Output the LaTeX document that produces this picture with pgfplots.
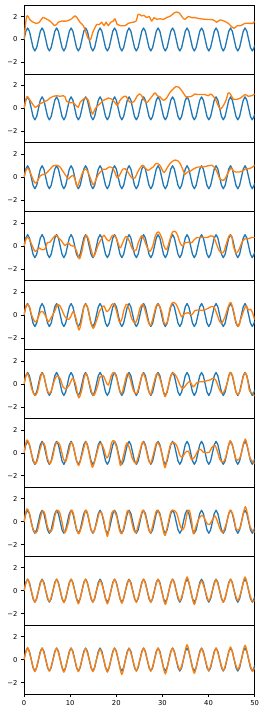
\documentclass[border=0pt]{standalone}
\usepackage{fontspec}
\setmainfont{DejaVu Sans}
\usepackage{pgfplots}
\usepackage{pgfplotstable}
\pgfplotsset{compat=1.18}
\usepgfplotslibrary{groupplots}
\definecolor{c0}{HTML}{1F77B4}
\definecolor{c1}{HTML}{FF7F0E}
\pgfplotstableread[row sep=\\]{
x y\\
0 0\\ 0.3927 0.7071\\ 0.7854 1\\ 1.1781 0.7071\\ 1.5708 0\\ 1.9635 -0.7071\\ 2.3562 -1\\ 2.7489 -0.7071\\
3.1416 0\\ 3.5343 0.7071\\ 3.9270 1\\ 4.3197 0.7071\\ 4.7124 0\\ 5.1051 -0.7071\\ 5.4978 -1\\ 5.8905 -0.7071\\
6.2832 0\\ 6.6759 0.7071\\ 7.0686 1\\ 7.4613 0.7071\\ 7.8540 0\\ 8.2467 -0.7071\\ 8.6394 -1\\ 9.0321 -0.7071\\
9.4248 0\\ 9.8175 0.7071\\ 10.2102 1\\ 10.6029 0.7071\\ 10.9956 0\\ 11.3883 -0.7071\\ 11.7810 -1\\ 12.1737 -0.7071\\
12.5664 0\\ 12.9591 0.7071\\ 13.3518 1\\ 13.7445 0.7071\\ 14.1372 0\\ 14.5299 -0.7071\\ 14.9226 -1\\ 15.3153 -0.7071\\
15.7080 0\\ 16.1007 0.7071\\ 16.4934 1\\ 16.8861 0.7071\\ 17.2788 0\\ 17.6715 -0.7071\\ 18.0642 -1\\ 18.4569 -0.7071\\
18.8496 0\\ 19.2423 0.7071\\ 19.6350 1\\ 20.0277 0.7071\\ 20.4204 0\\ 20.8131 -0.7071\\ 21.2058 -1\\ 21.5985 -0.7071\\
21.9911 0\\ 22.3838 0.7071\\ 22.7765 1\\ 23.1692 0.7071\\ 23.5619 0\\ 23.9546 -0.7071\\ 24.3473 -1\\ 24.7400 -0.7071\\
25.1327 0\\ 25.5254 0.7071\\ 25.9181 1\\ 26.3108 0.7071\\ 26.7035 0\\ 27.0962 -0.7071\\ 27.4889 -1\\ 27.8816 -0.7071\\
28.2743 0\\ 28.6670 0.7071\\ 29.0597 1\\ 29.4524 0.7071\\ 29.8451 0\\ 30.2378 -0.7071\\ 30.6305 -1\\ 31.0232 -0.7071\\
31.4159 0\\ 31.8086 0.7071\\ 32.2013 1\\ 32.5940 0.7071\\ 32.9867 0\\ 33.3794 -0.7071\\ 33.7721 -1\\ 34.1648 -0.7071\\
34.5575 0\\ 34.9502 0.7071\\ 35.3429 1\\ 35.7356 0.7071\\ 36.1283 0\\ 36.5210 -0.7071\\ 36.9137 -1\\ 37.3064 -0.7071\\
37.6991 0\\ 38.0918 0.7071\\ 38.4845 1\\ 38.8772 0.7071\\ 39.2699 0\\ 39.6626 -0.7071\\ 40.0553 -1\\ 40.4480 -0.7071\\
40.8407 0\\ 41.2334 0.7071\\ 41.6261 1\\ 42.0188 0.7071\\ 42.4115 0\\ 42.8042 -0.7071\\ 43.1969 -1\\ 43.5896 -0.7071\\
43.9823 0\\ 44.3750 0.7071\\ 44.7677 1\\ 45.1604 0.7071\\ 45.5531 0\\ 45.9458 -0.7071\\ 46.3385 -1\\ 46.7312 -0.7071\\
47.1239 0\\ 47.5166 0.7071\\ 47.9093 1\\ 48.3020 0.7071\\ 48.6947 0\\ 49.0874 -0.7071\\ 49.4801 -1\\ 49.8728 -0.7071\\
50 -0.5064\\
}\bluedata
\begin{document}
\begin{tikzpicture}
\begin{groupplot}[
  group style={group size=1 by 10, vertical sep=0pt, xticklabels at=edge bottom},
  width=230.7pt, height=68.9pt, scale only axis,
  xmin=0, xmax=50, ymin=-3, ymax=3,
  ytick={-2,0,2}, yticklabels={−2,0,2},
  xtick={0,10,20,30,40,50}, xticklabels={0,10,20,30,40,50},
  tick align=outside, tick pos=left, major tick length=3pt,
  tick style={black, line width=0.7pt},
  ticklabel style={font=\fontsize{6.8}{8}\selectfont},
  /pgf/number format/assume math mode=true,
  axis line style={black, line width=0.7pt},
  bl/.style={c0, line width=1.3pt, line join=round},
  or/.style={c1, line width=1.3pt, line join=round, smooth, tension=0.5},
]
% panel 1
\nextgroupplot[xtick=\empty]
\addplot[bl] table {\bluedata};
\addplot[or] coordinates {(0,0)(0.58,2.0)(1.30,1.7)(2.02,1.5)(2.60,1.4)(3.32,1.5)(4.05,1.9)(4.77,1.8)(5.64,1.6)(6.72,1.2)(7.44,1.5)(8.16,1.6)(9.25,1.6)(10.33,1.8)(11.05,2.05)(11.56,1.85)(12.14,1.5)(12.86,1.2)(13.44,0.6)(13.94,0.05)(14.45,0)(14.88,0.6)(15.24,0.9)(15.75,1.3)(16.33,1.3)(16.83,1.5)(17.34,1.2)(17.77,1.5)(18.28,1.2)(18.79,1.5)(19.36,1.6)(19.72,1.8)(20.23,1.3)(20.95,1.2)(21.89,1.2)(22.61,1.4)(23.55,1.5)(24.28,1.6)(24.78,2.2)(25.50,2.05)(26.01,2.1)(26.59,1.9)(27.17,2.0)(27.67,1.6)(28.18,1.9)(28.76,1.75)(29.48,1.8)(30.20,1.75)(30.92,1.9)(31.79,2.05)(32.51,2.3)(33.09,2.4)(33.67,2.3)(34.39,1.9)(34.90,1.75)(35.62,2.0)(36.34,1.9)(37.06,1.9)(38.15,1.8)(39.59,1.75)(41.04,1.7)(41.76,1.5)(42.48,1.7)(43.35,1.6)(44.29,1.4)(45.01,1.1)(45.52,0.97)(46.24,1.2)(46.96,1.2)(47.90,1.4)(48.84,1.4)(49.57,1.4)(50,1.6)};
% panel 2
\nextgroupplot[xtick=\empty]
\addplot[bl] table {\bluedata};
\addplot[or] coordinates {(0,0)(0.58,1.0)(1.16,0.8)(1.66,0.5)(2.38,0.1)(2.89,0.2)(3.47,0.4)(4.05,0.5)(4.55,0.6)(5.06,0.7)(5.64,0.9)(6.36,1.05)(7.08,1.1)(7.80,1.05)(8.53,1.1)(8.89,1.0)(9.25,0.6)(9.97,0.5)(10.69,0.5)(11.27,0.25)(11.78,0.1)(12.14,0.5)(12.86,0.8)(13.44,0.9)(13.94,0.7)(14.45,-0.05)(14.88,-0.5)(15.39,-0.05)(15.90,0.2)(16.47,0.4)(17.20,0.7)(17.77,0.8)(18.28,0.9)(19.00,0.8)(19.72,0.5)(20.23,0.25)(20.81,0.7)(21.53,1.0)(22.11,1.05)(22.61,0.7)(23.12,0.5)(23.84,0.6)(24.57,1.1)(25.00,1.25)(25.50,1.1)(25.87,0.8)(26.59,0.5)(27.17,0.75)(27.67,1.0)(28.39,1.35)(28.90,1.1)(29.48,1.0)(30.20,0.7)(30.92,0.9)(31.65,1.4)(32.37,1.7)(32.95,1.9)(33.67,1.8)(34.17,1.55)(34.68,1.25)(35.11,1.0)(35.62,1.0)(36.34,1.05)(37.06,1.25)(37.79,1.2)(38.51,1.2)(39.23,1.2)(39.95,1.1)(40.46,1.25)(41.04,1.05)(41.62,0.7)(42.12,0.2)(42.63,-0.05)(43.21,0.25)(43.78,0.7)(44.29,1.35)(44.80,1.2)(45.37,0.8)(46.24,0.8)(46.96,0.9)(47.90,1.2)(48.63,1.05)(49.35,1.1)(50,1.25)};
% panel 3
\nextgroupplot[xtick=\empty]
\addplot[bl] table {\bluedata};
\addplot[or] coordinates {(0,0)(0.58,0.75)(1.16,0.6)(1.66,0.1)(2.38,-0.5)(2.89,-0.35)(3.47,0.1)(4.05,0.25)(4.55,0.25)(5.06,0.45)(5.64,0.7)(6.36,1.0)(7.08,1.05)(7.80,0.9)(8.38,0.55)(8.89,0.25)(9.61,-0.15)(10.12,0.05)(10.69,0.15)(11.05,-0.2)(11.56,-0.8)(12.14,-0.2)(12.86,0.55)(13.44,0.7)(13.94,0.4)(14.45,-0.15)(15.03,-0.65)(15.61,-0.2)(16.11,0.25)(16.62,0.5)(17.20,0.7)(17.77,0.7)(18.50,0.9)(19.22,0.8)(19.72,0.4)(20.23,-0.05)(20.81,0.25)(21.39,0.7)(21.89,0.75)(22.61,0.4)(23.34,-0.05)(24.06,-0.05)(24.57,0.4)(25.14,0.8)(25.72,1.05)(26.23,0.8)(26.95,0.6)(27.46,0.75)(28.03,0.9)(28.61,1.2)(29.33,1.1)(29.84,0.75)(30.35,0.4)(30.92,0.75)(31.65,1.2)(32.22,1.4)(32.73,1.5)(33.45,1.4)(33.96,1.1)(34.54,0.55)(34.90,0.25)(35.40,0.45)(36.13,0.55)(36.85,0.75)(37.79,0.9)(38.87,0.9)(39.95,1.0)(40.68,1.05)(41.40,0.8)(41.91,0.4)(42.48,-0.15)(43.35,-0.25)(43.93,0.15)(44.51,0.6)(45.01,0.8)(45.37,0.55)(45.95,0.45)(46.67,0.45)(47.40,0.55)(48.12,0.75)(48.84,0.75)(49.57,0.9)(50,1.05)};
% panel 4
\nextgroupplot[xtick=\empty]
\addplot[bl] table {\bluedata};
\addplot[or] coordinates {(0,0)(0.58,0.75)(1.16,0.6)(1.66,0.15)(2.38,-0.45)(2.89,-0.3)(3.32,-0.15)(3.83,-0.3)(4.55,-0.25)(5.06,0.3)(5.64,0.35)(6.36,0.75)(6.94,0.95)(7.44,0.75)(8.16,0.45)(8.89,0.05)(9.61,0.3)(10.12,0.05)(10.84,0)(11.41,-0.45)(11.99,-1.1)(12.50,-0.55)(13.00,0.45)(13.44,0.95)(13.94,0.65)(14.45,-0.15)(15.03,-0.9)(15.61,-0.45)(16.11,0.15)(16.83,0.65)(17.34,0.95)(17.92,0.6)(18.50,0.45)(19.00,0.85)(19.51,0.95)(20.09,0.6)(20.81,-0.15)(21.39,0.3)(22.11,0.85)(22.83,0.45)(23.55,-0.3)(24.28,-0.35)(24.78,0.3)(25.50,0.9)(26.01,0.6)(26.73,-0.15)(27.31,-0.45)(27.89,0)(28.47,0.9)(29.12,1.25)(29.84,0.75)(30.35,0)(30.92,-0.3)(31.65,0.6)(32.22,1.25)(32.73,1.3)(33.24,1.0)(33.82,0.3)(34.39,0)(34.90,0.3)(35.62,0.35)(36.34,0.3)(36.85,0.55)(37.42,0.75)(38.15,0.75)(39.01,0.75)(39.74,0.75)(40.46,0.9)(41.04,0.85)(41.62,0.3)(42.19,-0.3)(42.84,-0.6)(43.35,-0.45)(43.93,0.3)(44.51,0.95)(45.01,0.85)(45.37,0.05)(45.95,-0.6)(46.67,-0.25)(47.18,0.3)(47.90,0.65)(48.63,0.65)(49.35,0.75)(50,0.75)};
% panel 5
\nextgroupplot[xtick=\empty]
\addplot[bl] table {\bluedata};
\addplot[or] coordinates {(0,0)(0.58,0.95)(1.16,0.7)(1.66,0)(2.38,-0.6)(2.89,-0.4)(3.47,0.2)(4.05,0.3)(4.77,-0.15)(5.27,-0.6)(5.78,-0.3)(6.21,0)(6.72,0.4)(7.23,0.9)(7.80,0.8)(8.38,0.3)(8.89,-0.15)(9.61,-0.4)(10.12,-0.15)(10.69,0.3)(11.27,-0.3)(11.92,-1.3)(12.50,-0.45)(13.00,0.75)(13.44,0.95)(13.94,0.45)(14.45,-0.6)(15.03,-1.15)(15.75,-0.45)(16.33,0.3)(16.83,0.6)(17.34,0.8)(17.92,0.3)(18.50,0.5)(19.00,0.9)(19.51,0.95)(20.09,0.3)(20.66,-0.6)(21.17,-0.4)(21.67,0.45)(22.25,0.95)(22.83,0.45)(23.34,-0.3)(24.06,-0.7)(24.57,-0.3)(25.14,0.6)(25.72,0.95)(26.23,0.45)(26.95,-0.6)(27.46,-0.9)(28.03,-0.15)(28.61,0.75)(29.12,0.95)(29.84,0.3)(30.42,-0.75)(31.07,-0.6)(31.65,0.6)(32.22,1.1)(32.95,0.95)(33.67,0.3)(34.17,-0.15)(34.90,0.15)(35.62,0.2)(36.34,0)(37.06,0.4)(37.79,0.45)(38.51,0.4)(39.23,0.45)(39.95,0.6)(40.68,0.75)(41.18,0.7)(41.76,0.15)(42.34,-0.5)(42.84,-0.7)(43.57,-0.15)(44.29,0.75)(44.80,1.1)(45.37,0.45)(45.95,-0.6)(46.46,-1.0)(46.96,-0.4)(47.54,0.3)(48.12,0.8)(48.63,0.45)(49.13,0.5)(49.57,0.15)(50,-0.4)};
% panel 6
\nextgroupplot[xtick=\empty]
\addplot[bl] table {\bluedata};
\addplot[or] coordinates {(0,0)(0.58,0.9)(1.16,0.5)(1.66,-0.4)(2.38,-1.0)(2.89,-0.7)(3.47,0.35)(3.90,0.95)(4.34,0.65)(4.91,-0.4)(5.49,-0.85)(6.00,-0.5)(6.50,0.2)(7.08,0.7)(7.80,0.5)(8.53,-0.3)(9.25,-0.4)(9.97,0.05)(10.55,0.5)(11.13,0.05)(11.85,-1.2)(12.50,-0.55)(13.00,0.5)(13.44,0.9)(13.94,0.4)(14.67,-0.7)(15.17,-1.0)(15.90,-0.25)(16.47,0.6)(17.20,0.7)(17.77,0.2)(18.28,-0.1)(19.00,0.8)(19.51,1.0)(20.09,0.5)(20.66,-0.5)(21.24,-0.8)(21.89,0.2)(22.40,0.9)(22.98,0.5)(23.70,-0.55)(24.42,-0.85)(25.00,-0.1)(25.72,0.9)(26.30,0.5)(26.95,-0.55)(27.46,-0.9)(28.03,-0.1)(28.76,0.9)(29.33,0.65)(30.06,-0.4)(30.56,-1.1)(31.07,-0.55)(31.79,0.65)(32.37,0.95)(33.09,0.6)(33.82,-0.1)(34.39,-0.4)(34.90,-0.2)(35.40,0.05)(35.98,0.2)(36.70,-0.25)(37.42,0.1)(38.15,0.2)(39.01,0.2)(39.74,0.3)(40.32,0.35)(41.04,0.5)(41.62,0.3)(42.12,-0.25)(42.63,-0.7)(43.21,-0.75)(43.93,-0.1)(44.65,1.0)(45.23,0.65)(45.95,-0.7)(46.46,-0.9)(46.96,-0.4)(47.54,0.65)(47.98,1.0)(48.41,0.5)(48.84,-0.55)(49.35,-0.75)(50,-1.05)};
% panel 7
\nextgroupplot[xtick=\empty]
\addplot[bl] table {\bluedata};
\addplot[or] coordinates {(0,0)(0.58,1.1)(1.16,0.75)(1.66,-0.15)(2.38,-0.95)(2.89,-0.65)(3.47,0.3)(4.05,0.9)(4.55,0.6)(5.06,-0.45)(5.64,-0.95)(6.21,-0.35)(6.72,0.6)(7.23,0.95)(7.80,0.65)(8.53,-0.5)(9.03,-0.75)(9.61,0)(10.19,0.9)(10.69,0.6)(11.27,-0.45)(11.85,-1.1)(12.50,-0.3)(13.37,0.95)(13.94,0.3)(14.45,-0.75)(14.88,-1.25)(15.61,-0.3)(16.33,0.75)(16.83,0.75)(17.34,0.3)(17.92,-0.45)(18.50,0)(19.00,0.9)(19.51,1.05)(20.09,0.45)(20.66,-0.65)(20.95,-1.1)(21.53,-0.3)(22.25,0.85)(22.83,0.45)(23.55,-0.55)(24.28,-0.9)(25.00,0)(25.72,0.95)(26.30,0.55)(26.95,-0.55)(27.46,-0.9)(28.03,-0.15)(28.76,0.9)(29.48,0.55)(30.06,-0.45)(30.56,-1.3)(31.07,-0.45)(31.79,0.75)(32.37,0.9)(33.09,0.65)(33.82,-0.25)(34.39,-0.35)(34.90,0)(35.62,0.15)(36.34,-0.6)(37.06,-0.3)(37.79,0.25)(38.30,0.3)(38.87,0.05)(39.45,0)(40.17,0.05)(40.68,0.45)(41.40,0.65)(41.91,0.15)(42.48,-0.6)(43.21,-0.8)(43.78,-0.3)(44.65,1.05)(45.37,0.35)(45.95,-0.55)(46.46,-0.6)(46.96,-0.3)(47.54,0.75)(47.98,1.2)(48.41,0.6)(48.99,-0.45)(49.57,-0.75)(50,-0.95)};
% panel 8
\nextgroupplot[xtick=\empty]
\addplot[bl] table {\bluedata};
\addplot[or] coordinates {(0,0)(0.58,1.1)(1.16,0.75)(1.66,-0.25)(2.38,-0.95)(2.89,-0.8)(3.47,0.2)(4.05,0.95)(4.55,0.65)(5.06,-0.4)(5.64,-0.9)(6.21,-0.55)(6.72,0.55)(7.23,1.0)(7.80,0.75)(8.53,-0.6)(8.89,-0.95)(9.61,-0.1)(10.19,1.0)(10.69,0.75)(11.27,-0.4)(11.85,-1.05)(12.50,-0.4)(13.37,1.0)(13.94,0.45)(14.45,-0.6)(15.03,-0.95)(15.75,-0.1)(16.33,0.8)(16.83,0.75)(17.34,0.05)(17.77,-0.85)(18.14,-1.25)(18.64,0.05)(19.07,0.8)(19.51,0.95)(20.09,0.45)(20.66,-0.7)(21.17,-1.05)(21.67,-0.4)(22.40,0.95)(22.98,0.65)(23.70,-0.6)(24.28,-0.95)(25.00,0.05)(25.72,1.0)(26.30,0.55)(26.95,-0.6)(27.46,-0.95)(28.03,-0.1)(28.76,1.0)(29.48,0.55)(30.06,-0.55)(30.56,-1.2)(31.07,-0.45)(31.79,0.85)(32.37,1.0)(33.09,0.75)(33.82,-0.3)(34.39,-0.7)(34.90,-0.25)(35.40,0.8)(35.84,1.0)(36.34,0.05)(36.70,-1.05)(37.28,-0.4)(38.01,0.35)(38.73,0.55)(39.23,0.2)(39.59,-0.1)(40.17,-0.25)(40.89,0.2)(41.40,0.5)(41.91,0.05)(42.48,-0.6)(43.06,-0.95)(43.78,-0.25)(44.65,1.0)(45.37,0.5)(45.95,-0.6)(46.46,-0.7)(46.96,-0.4)(47.54,0.75)(47.98,1.3)(48.41,0.75)(48.99,-0.4)(49.57,-0.8)(50,-0.9)};
% panel 9
\nextgroupplot[xtick=\empty]
\addplot[bl] table {\bluedata};
\addplot[or] coordinates {(0,0)(0.7854,1.0)(1.5708,0)(2.3562,-1.0)(3.1416,0)(3.9270,0.95)(4.7124,0)(5.4978,-0.95)(6.2832,0)(7.0686,1.0)(7.8540,0)(8.6394,-1.05)(9.4248,0)(10.2102,1.0)(10.9956,0)(11.7810,-1.15)(12.5664,0)(13.3518,1.0)(14.1372,0)(14.9226,-1.0)(15.7080,0)(16.4934,0.88)(17.2788,0)(18.0642,-1.15)(18.8496,0)(19.6350,1.0)(20.4204,0)(21.2058,-1.1)(21.9911,0)(22.7765,0.95)(23.5619,0)(24.3473,-1.0)(25.1327,0)(25.9181,1.0)(26.7035,0)(27.4889,-1.0)(28.2743,0)(29.0597,1.0)(29.8451,0)(30.6305,-1.2)(31.4159,0)(32.2013,1.0)(32.9867,0)(33.7721,-0.9)(34.5575,0)(35.3429,1.2)(36.1283,0)(36.9137,-1.2)(37.6991,0)(38.4845,0.85)(39.2699,0)(40.0553,-0.9)(40.8407,0)(41.6261,0.95)(42.4115,0)(43.1969,-1.0)(43.9823,0)(44.7677,1.0)(45.5531,0)(46.3385,-0.85)(47.1239,0)(47.9093,1.2)(48.6947,0)(49.4801,-0.95)(50,-0.8)};
% panel 10
\nextgroupplot
\addplot[bl] table {\bluedata};
\addplot[or] coordinates {(0,0)(0.7854,1.05)(1.5708,0)(2.3562,-1.05)(3.1416,0)(3.9270,1.0)(4.7124,0)(5.4978,-1.0)(6.2832,0)(7.0686,1.0)(7.8540,0)(8.6394,-1.1)(9.4248,0)(10.2102,1.0)(10.9956,0)(11.7810,-1.05)(12.5664,0)(13.3518,0.95)(14.1372,0)(14.9226,-1.05)(15.7080,0)(16.4934,0.9)(17.2788,0)(18.0642,-1.1)(18.8496,0)(19.6350,1.0)(20.4204,0)(21.2058,-1.3)(21.9911,0)(22.7765,0.95)(23.5619,0)(24.3473,-1.0)(25.1327,0)(25.9181,1.0)(26.7035,0)(27.4889,-1.0)(28.2743,0)(29.0597,1.0)(29.8451,0)(30.6305,-1.25)(31.4159,0)(32.2013,1.0)(32.9867,0)(33.7721,-0.9)(34.5575,0)(35.3429,1.3)(36.1283,0)(36.9137,-1.2)(37.6991,0)(38.4845,0.95)(39.2699,0)(40.0553,-0.95)(40.8407,0)(41.6261,1.0)(42.4115,0)(43.1969,-0.95)(43.9823,0)(44.7677,1.1)(45.5531,0)(46.3385,-0.85)(47.1239,0)(47.9093,1.25)(48.6947,0)(49.4801,-1.0)(50,-0.7)};
\end{groupplot}
\path ([xshift=-24pt,yshift=5pt]group c1r1.north west) rectangle ([xshift=11.3pt,yshift=-20pt]group c1r10.south east);
\end{tikzpicture}
\end{document}
